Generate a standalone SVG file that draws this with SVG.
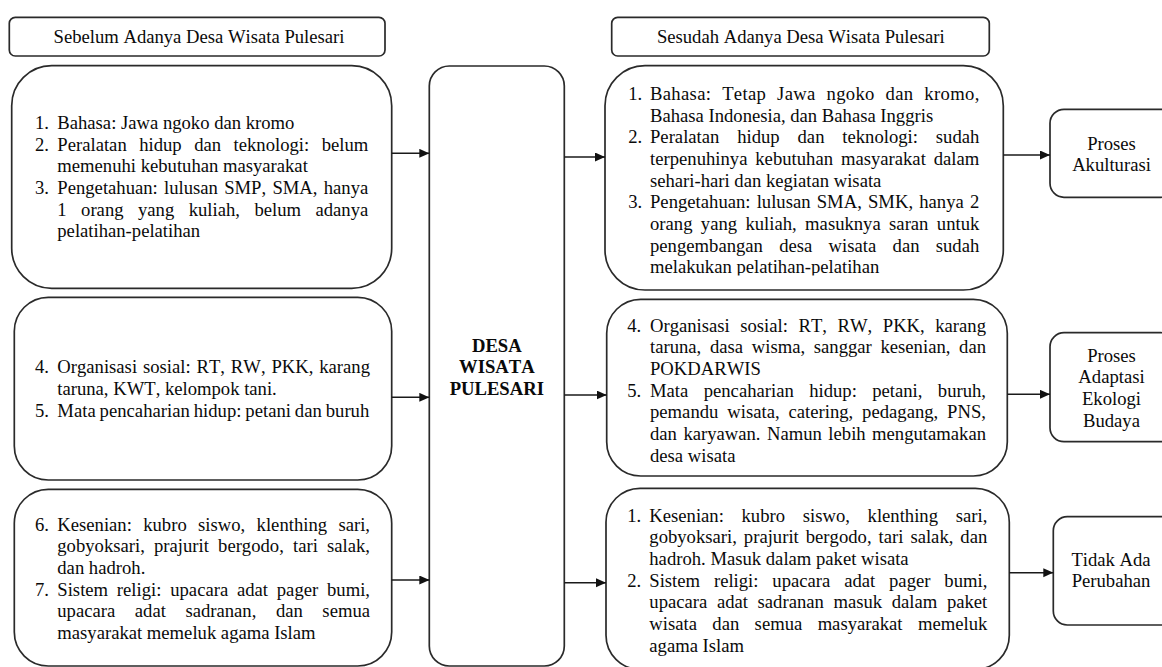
<svg xmlns="http://www.w3.org/2000/svg" width="1162" height="667" viewBox="0 0 1162 667">
<style>
.box{fill:#fff;stroke:#2a2a2a;stroke-width:1.7}
.t{font-family:"Liberation Serif","Times New Roman",serif;font-size:18.65px;fill:#0a0a0a;font-kerning:none}
.c{text-anchor:middle}
.b{font-weight:bold}
.conn line{stroke:#1a1a1a;stroke-width:1.6;marker-end:url(#ah)}
</style>
<defs>
<marker id="ah" markerUnits="userSpaceOnUse" markerWidth="10" markerHeight="10" refX="10" refY="4.5" orient="auto">
<path d="M0,0 L10,4.5 L0,9 z" fill="#111"/>
</marker>
<clipPath id="cut1"><rect x="600" y="250" width="420" height="25.5"/></clipPath>
</defs>
<rect width="1162" height="667" fill="#fff"/>

<g id="header-before">
<rect class="box" x="9.3" y="17.3" width="375.7" height="38.7" rx="6"/>
<text class="t c" x="199" y="43.3">Sebelum Adanya Desa Wisata Pulesari</text>
</g>
<g id="header-after">
<rect class="box" x="611.7" y="17.3" width="377.6" height="38.7" rx="6"/>
<text class="t c" x="800.8" y="43.3">Sesudah Adanya Desa Wisata Pulesari</text>
</g>

<g id="before-1">
<rect class="box" x="11.7" y="65.7" width="380" height="222.6" rx="40"/>
<text class="t" x="35" y="129">1.</text>
<text class="t" x="57.3" y="129">Bahasa: Jawa ngoko dan kromo</text>
<text class="t" x="35" y="150.65">2.</text>
<text class="t" x="57.3" y="150.65" word-spacing="7.8" textLength="311" lengthAdjust="spacing">Peralatan hidup dan teknologi: belum</text>
<text class="t" x="57.3" y="172.3">memenuhi kebutuhan masyarakat</text>
<text class="t" x="35" y="193.95">3.</text>
<text class="t" x="57.3" y="193.95" word-spacing="1.6" textLength="311" lengthAdjust="spacing">Pengetahuan: lulusan SMP, SMA, hanya</text>
<text class="t" x="57.3" y="215.6" word-spacing="9.8" textLength="311" lengthAdjust="spacing">1 orang yang kuliah, belum adanya</text>
<text class="t" x="57.3" y="237.25">pelatihan-pelatihan</text>
</g>

<g id="before-2">
<rect class="box" x="14.3" y="297.3" width="377.4" height="182.7" rx="34"/>
<text class="t" x="35" y="373.3">4.</text>
<text class="t" x="57.3" y="373.3" word-spacing="1.2" textLength="312.7" lengthAdjust="spacing">Organisasi sosial: RT, RW, PKK, karang</text>
<text class="t" x="57.3" y="394.95">taruna, KWT, kelompok tani.</text>
<text class="t" x="35" y="416.6">5.</text>
<text class="t" x="57.3" y="416.6" word-spacing="-0.85" textLength="312" lengthAdjust="spacing">Mata pencaharian hidup: petani dan buruh</text>
</g>

<g id="before-3">
<rect class="box" x="14.3" y="489.3" width="377.4" height="176.7" rx="34"/>
<text class="t" x="35" y="530.7">6.</text>
<text class="t" x="57.3" y="530.7" word-spacing="6.7" textLength="312.7" lengthAdjust="spacing">Kesenian: kubro siswo, klenthing sari,</text>
<text class="t" x="57.3" y="552.35" word-spacing="4.5" textLength="312.7" lengthAdjust="spacing">gobyoksari, prajurit bergodo, tari salak,</text>
<text class="t" x="57.3" y="574">dan hadroh.</text>
<text class="t" x="35" y="595.65">7.</text>
<text class="t" x="57.3" y="595.65" word-spacing="4.1" textLength="312.7" lengthAdjust="spacing">Sistem religi: upacara adat pager bumi,</text>
<text class="t" x="57.3" y="617.3" word-spacing="14.9" textLength="312.7" lengthAdjust="spacing">upacara adat sadranan, dan semua</text>
<text class="t" x="57.3" y="638.95">masyarakat memeluk agama Islam</text>
</g>

<g id="center">
<rect class="box" x="429.3" y="66" width="135" height="600" rx="20"/>
<text class="t c b" x="496.8" y="351.7">DESA</text>
<text class="t c b" x="496.8" y="373.3">WISATA</text>
<text class="t c b" x="496.8" y="395">PULESARI</text>
</g>

<g id="after-1">
<rect class="box" x="605" y="65.7" width="398.3" height="224.3" rx="40"/>
<text class="t" x="628.3" y="100">1.</text>
<text class="t" x="650" y="100" word-spacing="5.9" textLength="329.3" lengthAdjust="spacing">Bahasa: Tetap Jawa ngoko dan kromo,</text>
<text class="t" x="650" y="121.65">Bahasa Indonesia, dan Bahasa Inggris</text>
<text class="t" x="628.3" y="143.3">2.</text>
<text class="t" x="650" y="143.3" word-spacing="13.2" textLength="329.3" lengthAdjust="spacing">Peralatan hidup dan teknologi: sudah</text>
<text class="t" x="650" y="164.95" word-spacing="3.2" textLength="329.3" lengthAdjust="spacing">terpenuhinya kebutuhan masyarakat dalam</text>
<text class="t" x="650" y="186.6">sehari-hari dan kegiatan wisata</text>
<text class="t" x="628.3" y="208.25">3.</text>
<text class="t" x="650" y="208.25" word-spacing="1.5" textLength="329.3" lengthAdjust="spacing">Pengetahuan: lulusan SMA, SMK, hanya 2</text>
<text class="t" x="650" y="229.9" word-spacing="3.7" textLength="329.3" lengthAdjust="spacing">orang yang kuliah, masuknya saran untuk</text>
<text class="t" x="650" y="251.55" word-spacing="11.6" textLength="329.3" lengthAdjust="spacing">pengembangan desa wisata dan sudah</text>
<text class="t" x="650" y="273.2" clip-path="url(#cut1)">melakukan pelatihan-pelatihan</text>
</g>

<g id="after-2">
<rect class="box" x="606.7" y="299.3" width="400.6" height="176.7" rx="34"/>
<text class="t" x="627.3" y="331.7">4.</text>
<text class="t" x="650" y="331.7" word-spacing="5.9" textLength="336" lengthAdjust="spacing">Organisasi sosial: RT, RW, PKK, karang</text>
<text class="t" x="650" y="353.35" word-spacing="4.0" textLength="336" lengthAdjust="spacing">taruna, dasa wisma, sanggar kesenian, dan</text>
<text class="t" x="650" y="375">POKDARWIS</text>
<text class="t" x="627.3" y="396.65">5.</text>
<text class="t" x="650" y="396.65" word-spacing="10.7" textLength="336" lengthAdjust="spacing">Mata pencaharian hidup: petani, buruh,</text>
<text class="t" x="650" y="418.3" word-spacing="4.2" textLength="336" lengthAdjust="spacing">pemandu wisata, catering, pedagang, PNS,</text>
<text class="t" x="650" y="439.95" word-spacing="1.8" textLength="336" lengthAdjust="spacing">dan karyawan. Namun lebih mengutamakan</text>
<text class="t" x="650" y="461.6">desa wisata</text>
</g>

<g id="after-3">
<rect class="box" x="606" y="488.3" width="403.3" height="181" rx="34"/>
<text class="t" x="627.3" y="521.7">1.</text>
<text class="t" x="649.3" y="521.7" word-spacing="13.0" textLength="338" lengthAdjust="spacing">Kesenian: kubro siswo, klenthing sari,</text>
<text class="t" x="649.3" y="543.35" word-spacing="2.3" textLength="338" lengthAdjust="spacing">gobyoksari, prajurit bergodo, tari salak, dan</text>
<text class="t" x="649.3" y="565">hadroh. Masuk dalam paket wisata</text>
<text class="t" x="627.3" y="586.65">2.</text>
<text class="t" x="649.3" y="586.65" word-spacing="9.2" textLength="338" lengthAdjust="spacing">Sistem religi: upacara adat pager bumi,</text>
<text class="t" x="649.3" y="608.3" word-spacing="4.9" textLength="338" lengthAdjust="spacing">upacara adat sadranan masuk dalam paket</text>
<text class="t" x="649.3" y="629.95" word-spacing="10.7" textLength="338" lengthAdjust="spacing">wisata dan semua masyarakat memeluk</text>
<text class="t" x="649.3" y="651.6">agama Islam</text>
</g>

<g id="akulturasi">
<rect class="box" x="1050" y="109.3" width="125" height="88" rx="14"/>
<text class="t c" x="1111.5" y="150">Proses</text>
<text class="t c" x="1111.5" y="171">Akulturasi</text>
</g>

<g id="adaptasi">
<rect class="box" x="1050" y="332.7" width="125" height="109" rx="14"/>
<text class="t c" x="1111.5" y="361.7">Proses</text>
<text class="t c" x="1111.5" y="383.3">Adaptasi</text>
<text class="t c" x="1111.5" y="405">Ekologi</text>
<text class="t c" x="1111.5" y="426.7">Budaya</text>
</g>

<g id="tidak-ada">
<rect class="box" x="1053.3" y="516.7" width="125" height="108.3" rx="14"/>
<text class="t c" x="1111" y="566">Tidak Ada</text>
<text class="t c" x="1111" y="587.3">Perubahan</text>
</g>

<g id="connectors" class="conn">
<line x1="391.7" y1="153.3" x2="429.3" y2="153.3"/>
<line x1="391.7" y1="397.3" x2="429.3" y2="397.3"/>
<line x1="391.7" y1="580" x2="429.3" y2="580"/>
<line x1="564.3" y1="157" x2="605" y2="157"/>
<line x1="564.3" y1="395" x2="606.7" y2="395"/>
<line x1="564.3" y1="582.7" x2="606" y2="582.7"/>
<line x1="1003.3" y1="155" x2="1050" y2="155"/>
<line x1="1007.3" y1="394.3" x2="1050" y2="394.3"/>
<line x1="1009.3" y1="572.7" x2="1053.3" y2="572.7"/>
</g>
</svg>
